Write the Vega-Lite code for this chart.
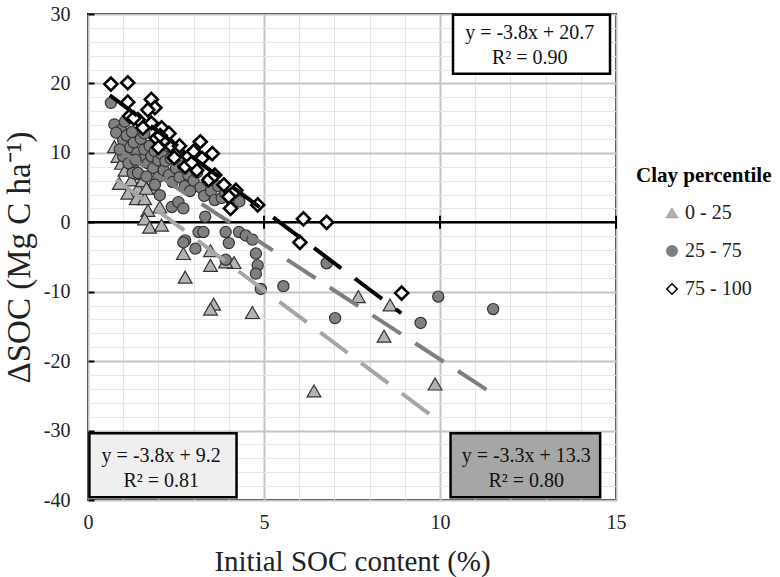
{
  "$schema": "https://vega.github.io/schema/vega-lite/v6.json",
  "width": 528,
  "height": 486,
  "autosize": {"type": "none"},
  "padding": {"left": 88, "top": 14, "right": 164, "bottom": 77},
  "background": "white",
  "config": {
    "view": {"stroke": "#000", "strokeWidth": 2},
    "font": "Liberation Serif"
  },
  "datasets": {
    "pts": [
      {"x":0.75,"y":10.9,"c":"0 - 25"},{"x":0.85,"y":9.5,"c":"0 - 25"},{"x":0.95,"y":8.5,"c":"0 - 25"},{"x":1.1,"y":9.8,"c":"0 - 25"},{"x":1.05,"y":7.5,"c":"0 - 25"},{"x":1.25,"y":8.8,"c":"0 - 25"},{"x":1.35,"y":7.0,"c":"0 - 25"},{"x":0.89,"y":5.6,"c":"0 - 25"},{"x":1.23,"y":6.1,"c":"0 - 25"},{"x":1.42,"y":4.9,"c":"0 - 25"},{"x":1.13,"y":4.2,"c":"0 - 25"},{"x":1.37,"y":3.4,"c":"0 - 25"},{"x":1.61,"y":3.4,"c":"0 - 25"},{"x":1.70,"y":1.7,"c":"0 - 25"},{"x":2.04,"y":2.2,"c":"0 - 25"},{"x":1.61,"y":0.5,"c":"0 - 25"},{"x":1.75,"y":-0.7,"c":"0 - 25"},{"x":2.09,"y":-0.4,"c":"0 - 25"},{"x":2.71,"y":-4.5,"c":"0 - 25"},{"x":2.76,"y":-7.9,"c":"0 - 25"},{"x":3.48,"y":-4.1,"c":"0 - 25"},{"x":3.48,"y":-6.2,"c":"0 - 25"},{"x":4.15,"y":-5.8,"c":"0 - 25"},{"x":3.91,"y":-5.7,"c":"0 - 25"},{"x":3.57,"y":-11.8,"c":"0 - 25"},{"x":3.48,"y":-12.5,"c":"0 - 25"},{"x":4.67,"y":-13.0,"c":"0 - 25"},{"x":7.68,"y":-10.7,"c":"0 - 25"},{"x":8.58,"y":-11.9,"c":"0 - 25"},{"x":8.41,"y":-16.4,"c":"0 - 25"},{"x":9.86,"y":-23.3,"c":"0 - 25"},{"x":6.42,"y":-24.3,"c":"0 - 25"},{"x":1.55,"y":6.0,"c":"0 - 25"},{"x":1.8,"y":5.0,"c":"0 - 25"},{"x":1.66,"y":4.9,"c":"0 - 25"},
      {"x":0.65,"y":17.2,"c":"25 - 75"},{"x":0.75,"y":14.1,"c":"25 - 75"},{"x":0.94,"y":13.3,"c":"25 - 75"},{"x":0.8,"y":12.9,"c":"25 - 75"},{"x":1.0,"y":11.8,"c":"25 - 75"},{"x":1.1,"y":12.5,"c":"25 - 75"},{"x":1.2,"y":10.8,"c":"25 - 75"},{"x":1.3,"y":11.5,"c":"25 - 75"},{"x":1.4,"y":10.0,"c":"25 - 75"},{"x":1.5,"y":12.0,"c":"25 - 75"},{"x":1.55,"y":9.0,"c":"25 - 75"},{"x":1.6,"y":10.5,"c":"25 - 75"},{"x":1.7,"y":8.5,"c":"25 - 75"},{"x":1.75,"y":11.0,"c":"25 - 75"},{"x":1.8,"y":9.5,"c":"25 - 75"},{"x":1.85,"y":7.8,"c":"25 - 75"},{"x":1.9,"y":10.2,"c":"25 - 75"},{"x":2.0,"y":8.9,"c":"25 - 75"},{"x":2.0,"y":6.5,"c":"25 - 75"},{"x":2.1,"y":9.8,"c":"25 - 75"},{"x":2.15,"y":7.5,"c":"25 - 75"},{"x":2.2,"y":8.8,"c":"25 - 75"},{"x":2.3,"y":6.8,"c":"25 - 75"},{"x":2.35,"y":9.2,"c":"25 - 75"},{"x":2.4,"y":5.8,"c":"25 - 75"},{"x":2.5,"y":7.8,"c":"25 - 75"},{"x":2.6,"y":6.5,"c":"25 - 75"},{"x":2.7,"y":8.2,"c":"25 - 75"},{"x":2.75,"y":5.2,"c":"25 - 75"},{"x":2.85,"y":6.8,"c":"25 - 75"},{"x":2.9,"y":4.5,"c":"25 - 75"},{"x":3.0,"y":6.0,"c":"25 - 75"},{"x":3.1,"y":7.2,"c":"25 - 75"},{"x":3.2,"y":5.0,"c":"25 - 75"},{"x":3.3,"y":3.8,"c":"25 - 75"},{"x":3.4,"y":6.0,"c":"25 - 75"},{"x":3.5,"y":4.5,"c":"25 - 75"},{"x":3.6,"y":3.2,"c":"25 - 75"},{"x":3.7,"y":5.2,"c":"25 - 75"},{"x":3.8,"y":3.5,"c":"25 - 75"},{"x":3.9,"y":4.2,"c":"25 - 75"},{"x":4.1,"y":2.8,"c":"25 - 75"},{"x":4.3,"y":3.0,"c":"25 - 75"},{"x":1.27,"y":7.1,"c":"25 - 75"},{"x":1.42,"y":7.1,"c":"25 - 75"},{"x":1.66,"y":6.6,"c":"25 - 75"},{"x":1.90,"y":5.4,"c":"25 - 75"},{"x":2.04,"y":3.9,"c":"25 - 75"},{"x":2.38,"y":2.2,"c":"25 - 75"},{"x":2.57,"y":2.9,"c":"25 - 75"},{"x":2.71,"y":2.0,"c":"25 - 75"},{"x":3.14,"y":-1.4,"c":"25 - 75"},{"x":3.28,"y":-1.4,"c":"25 - 75"},{"x":2.76,"y":-2.6,"c":"25 - 75"},{"x":3.05,"y":-3.8,"c":"25 - 75"},{"x":3.33,"y":0.8,"c":"25 - 75"},{"x":2.71,"y":-2.9,"c":"25 - 75"},{"x":3.91,"y":-1.4,"c":"25 - 75"},{"x":4.0,"y":-3.0,"c":"25 - 75"},{"x":4.29,"y":-1.4,"c":"25 - 75"},{"x":4.48,"y":-1.9,"c":"25 - 75"},{"x":4.67,"y":-2.5,"c":"25 - 75"},{"x":4.77,"y":-4.5,"c":"25 - 75"},{"x":4.82,"y":-6.2,"c":"25 - 75"},{"x":4.77,"y":-7.4,"c":"25 - 75"},{"x":4.91,"y":-9.6,"c":"25 - 75"},{"x":3.91,"y":-5.4,"c":"25 - 75"},{"x":5.55,"y":-9.2,"c":"25 - 75"},{"x":6.78,"y":-5.9,"c":"25 - 75"},{"x":7.02,"y":-13.8,"c":"25 - 75"},{"x":9.45,"y":-14.5,"c":"25 - 75"},{"x":9.95,"y":-10.7,"c":"25 - 75"},{"x":11.51,"y":-12.5,"c":"25 - 75"},{"x":1.0,"y":9.5,"c":"25 - 75"},{"x":1.15,"y":8.5,"c":"25 - 75"},{"x":0.9,"y":10.5,"c":"25 - 75"},{"x":1.05,"y":14.5,"c":"25 - 75"},{"x":1.25,"y":13.0,"c":"25 - 75"},{"x":1.6,"y":12.8,"c":"25 - 75"},{"x":2.25,"y":11.0,"c":"25 - 75"},{"x":2.45,"y":10.0,"c":"25 - 75"},{"x":1.35,"y":9.0,"c":"25 - 75"},
      {"x":0.65,"y":19.9,"c":"75 - 100"},{"x":1.13,"y":20.1,"c":"75 - 100"},{"x":1.13,"y":17.3,"c":"75 - 100"},{"x":1.80,"y":17.7,"c":"75 - 100"},{"x":1.90,"y":16.5,"c":"75 - 100"},{"x":1.70,"y":16.2,"c":"75 - 100"},{"x":1.18,"y":15.3,"c":"75 - 100"},{"x":1.42,"y":14.8,"c":"75 - 100"},{"x":1.80,"y":14.3,"c":"75 - 100"},{"x":1.56,"y":13.6,"c":"75 - 100"},{"x":2.09,"y":13.6,"c":"75 - 100"},{"x":1.94,"y":12.1,"c":"75 - 100"},{"x":2.18,"y":11.9,"c":"75 - 100"},{"x":2.38,"y":10.9,"c":"75 - 100"},{"x":2.55,"y":10.2,"c":"75 - 100"},{"x":2.85,"y":9.5,"c":"75 - 100"},{"x":2.76,"y":8.0,"c":"75 - 100"},{"x":3.19,"y":11.6,"c":"75 - 100"},{"x":3.53,"y":9.9,"c":"75 - 100"},{"x":3.09,"y":7.5,"c":"75 - 100"},{"x":3.24,"y":9.2,"c":"75 - 100"},{"x":3.43,"y":6.1,"c":"75 - 100"},{"x":3.86,"y":5.4,"c":"75 - 100"},{"x":4.0,"y":3.7,"c":"75 - 100"},{"x":4.05,"y":2.0,"c":"75 - 100"},{"x":4.2,"y":4.6,"c":"75 - 100"},{"x":4.82,"y":2.5,"c":"75 - 100"},{"x":2.3,"y":12.8,"c":"75 - 100"},{"x":2.6,"y":11.0,"c":"75 - 100"},{"x":2.05,"y":12.5,"c":"75 - 100"},{"x":2.95,"y":8.6,"c":"75 - 100"},{"x":3.6,"y":6.8,"c":"75 - 100"},{"x":3.0,"y":10.2,"c":"75 - 100"},{"x":2.45,"y":9.3,"c":"75 - 100"},{"x":1.3,"y":15.0,"c":"75 - 100"},{"x":2.0,"y":10.8,"c":"75 - 100"},{"x":6.12,"y":0.5,"c":"75 - 100"},{"x":6.78,"y":0.0,"c":"75 - 100"},{"x":6.02,"y":-2.9,"c":"75 - 100"},{"x":8.91,"y":-10.2,"c":"75 - 100"}
    ],
    "fits": [
      {"x":0.8,"y":6.16,"c":"0 - 25"},{"x":9.85,"y":-28.2,"c":"0 - 25"},
      {"x":0.8,"y":10.66,"c":"25 - 75"},{"x":11.35,"y":-24.2,"c":"25 - 75"},
      {"x":0.62,"y":18.3,"c":"75 - 100"},{"x":8.9,"y":-13.1,"c":"75 - 100"}
    ],
    "eqs": [
      {"x":12.55,"y":27.2,"t":"y = -3.8x + 20.7"},{"x":12.55,"y":23.7,"t":"R² = 0.90"},
      {"x":2.08,"y":-33.6,"t":"y = -3.8x + 9.2"},{"x":2.08,"y":-37.3,"t":"R² = 0.81"},
      {"x":12.45,"y":-33.6,"t":"y = -3.3x + 13.3"},{"x":12.45,"y":-37.3,"t":"R² = 0.80"}
    ]
  },
  "encoding": {
    "x": {
      "field": "x", "type": "quantitative",
      "scale": {"domain": [0, 15], "nice": false, "zero": false},
      "axis": {
        "values": [0,1,2,3,4,5,6,7,8,9,10,11,12,13,14,15],
        "grid": true,
        "gridColor": {"condition": {"test": "datum.value % 5 === 0", "value": "#c4c4c4"}, "value": "#e6e6e6"},
        "gridWidth": {"condition": {"test": "datum.value % 5 === 0", "value": 2}, "value": 1},
        "ticks": false, "domain": false,
        "labelExpr": "datum.value % 5 === 0 ? '' + datum.value : ''",
        "labelOverlap": false, "labelFlush": false,
        "labelFont": "Liberation Serif", "labelFontSize": 20, "labelColor": "#222", "labelPadding": 12,
        "title": "Initial SOC content (%)",
        "titleFont": "Liberation Serif", "titleFontSize": 29, "titleFontWeight": "normal", "titleColor": "#222", "titlePadding": 15
      }
    },
    "y": {
      "field": "y", "type": "quantitative",
      "scale": {"domain": [-40, 30], "nice": false, "zero": false},
      "axis": {
        "values": [-40,-38,-36,-34,-32,-30,-28,-26,-24,-22,-20,-18,-16,-14,-12,-10,-8,-6,-4,-2,0,2,4,6,8,10,12,14,16,18,20,22,24,26,28,30],
        "grid": true,
        "gridColor": {"condition": {"test": "datum.value % 10 === 0", "value": "#c4c4c4"}, "value": "#e6e6e6"},
        "gridWidth": {"condition": {"test": "datum.value % 10 === 0", "value": 2}, "value": 1},
        "ticks": true, "tickColor": "#000", "tickWidth": 2, "tickSize": -6,
        "tickOpacity": {"condition": {"test": "datum.value % 10 === 0", "value": 1}, "value": 0},
        "domain": false,
        "labelExpr": "datum.value % 10 === 0 ? '' + datum.value : ''",
        "labelOverlap": false, "labelFlush": false,
        "labelFont": "Liberation Serif", "labelFontSize": 20, "labelColor": "#222", "labelPadding": 24,
        "title": "ΔSOC (Mg C ha⁻¹)",
        "titleFont": "Liberation Serif", "titleFontSize": 33, "titleFontWeight": "normal", "titleColor": "#222", "titlePadding": 7
      }
    }
  },
  "layer": [
    {
      "data": {"values": [{"x": 0, "y": 0}, {"x": 15, "y": 0}]},
      "mark": {"type": "line", "color": "#000", "strokeWidth": 2.5}
    },
    {
      "data": {"values": [{"x": 5, "y": 0}, {"x": 10, "y": 0}, {"x": 15, "y": 0}]},
      "mark": {"type": "tick", "orient": "vertical", "color": "#000", "size": 13, "thickness": 2, "opacity": 1}
    },
    {
      "data": {"name": "pts"},
      "transform": [{"filter": "datum.c === '0 - 25'"}],
      "mark": {"type": "point", "filled": true, "stroke": "#333", "strokeWidth": 1.2, "size": 190, "opacity": 1},
      "encoding": {
        "shape": {
          "field": "c", "type": "nominal",
          "scale": {"domain": ["0 - 25", "25 - 75", "75 - 100"], "range": ["triangle-up", "circle", "diamond"]},
          "legend": {
            "title": "Clay percentile", "orient": "none", "legendX": 548, "legendY": 151,
            "titleFont": "Liberation Serif", "titleFontSize": 21, "titleFontWeight": "bold", "titleColor": "#000", "titlePadding": 17,
            "labelFont": "Liberation Serif", "labelFontSize": 20, "labelColor": "#222", "labelOffset": 3,
            "symbolSize": 110, "symbolStrokeColor": "#222", "symbolStrokeWidth": 1.5, "symbolOpacity": 1, "rowPadding": 18, "symbolOffset": 26
          }
        },
        "fill": {
          "field": "c", "type": "nominal",
          "scale": {"domain": ["0 - 25", "25 - 75", "75 - 100"], "range": ["#b3b3b3", "#808080", "#ffffff"]},
          "legend": {
            "title": "Clay percentile", "orient": "none", "legendX": 548, "legendY": 151,
            "titleFont": "Liberation Serif", "titleFontSize": 21, "titleFontWeight": "bold", "titleColor": "#000", "titlePadding": 17,
            "labelFont": "Liberation Serif", "labelFontSize": 20, "labelColor": "#222", "labelOffset": 3,
            "symbolSize": 110, "symbolStrokeColor": "#222", "symbolStrokeWidth": 1.5, "symbolOpacity": 1, "rowPadding": 18, "symbolOffset": 26
          }
        }
      }
    },
    {
      "data": {"name": "pts"},
      "transform": [{"filter": "datum.c === '25 - 75'"}],
      "mark": {"type": "point", "filled": true, "stroke": "#333", "strokeWidth": 1.2, "size": 125, "opacity": 1},
      "encoding": {
        "shape": {"field": "c", "type": "nominal"},
        "fill": {"field": "c", "type": "nominal"}
      }
    },
    {
      "data": {"name": "pts"},
      "transform": [{"filter": "datum.c === '75 - 100'"}],
      "mark": {"type": "point", "filled": true, "stroke": "#000", "strokeWidth": 2.6, "size": 170, "opacity": 1},
      "encoding": {
        "shape": {"field": "c", "type": "nominal"},
        "fill": {"field": "c", "type": "nominal"}
      }
    },
    {
      "data": {"name": "fits"},
      "mark": {"type": "line", "strokeDash": [34, 17], "strokeWidth": 4, "strokeCap": "butt"},
      "encoding": {
        "detail": {"field": "c", "type": "nominal"},
        "stroke": {
          "field": "c", "type": "nominal",
          "scale": {"domain": ["0 - 25", "25 - 75", "75 - 100"], "range": ["#a6a6a6", "#7f7f7f", "#000000"]},
          "legend": null
        }
      }
    },
    {
      "data": {"values": [{"x": 10.37, "xe": 14.83, "y": 29.9, "ye": 21.4}]},
      "mark": {"type": "rect", "fill": "#ffffff", "stroke": "#000", "strokeWidth": 2.5},
      "encoding": {"x2": {"field": "xe"}, "y2": {"field": "ye"}}
    },
    {
      "data": {"values": [{"x": 0.04, "xe": 4.22, "y": -30.4, "ye": -39.6}]},
      "mark": {"type": "rect", "fill": "#efefef", "stroke": "#000", "strokeWidth": 2.5},
      "encoding": {"x2": {"field": "xe"}, "y2": {"field": "ye"}}
    },
    {
      "data": {"values": [{"x": 10.3, "xe": 14.55, "y": -30.4, "ye": -39.6}]},
      "mark": {"type": "rect", "fill": "#a6a6a6", "stroke": "#000", "strokeWidth": 2.5},
      "encoding": {"x2": {"field": "xe"}, "y2": {"field": "ye"}}
    },
    {
      "data": {"name": "eqs"},
      "mark": {"type": "text", "font": "Liberation Serif", "fontSize": 20, "color": "#111", "align": "center", "baseline": "middle"},
      "encoding": {"text": {"field": "t", "type": "nominal"}}
    }
  ]
}
